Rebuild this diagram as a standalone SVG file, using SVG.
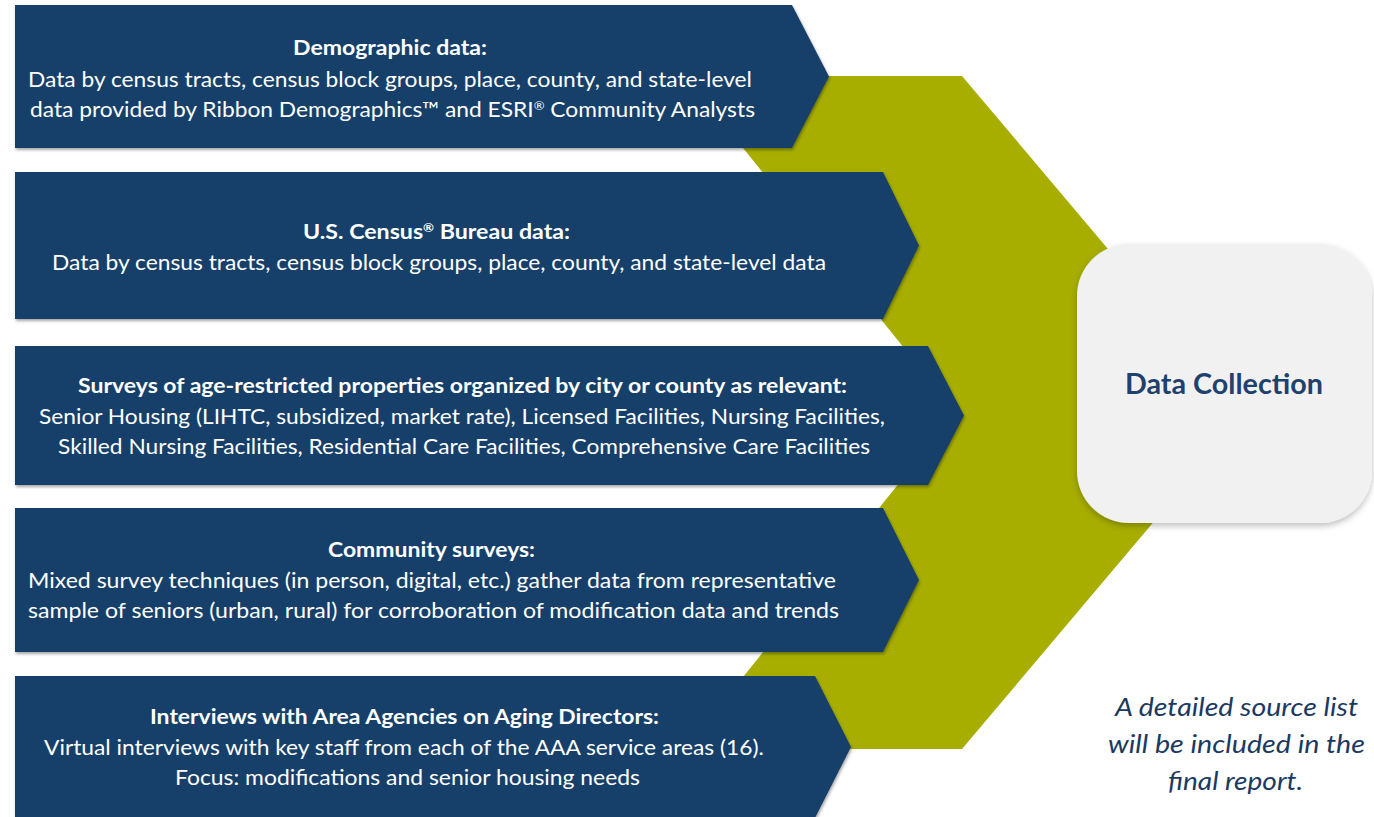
<svg xmlns="http://www.w3.org/2000/svg" width="1374" height="817" viewBox="0 0 1374 817">
  <defs>
    <filter id="shadow" x="-5%" y="-5%" width="110%" height="115%">
      <feDropShadow dx="1" dy="2" stdDeviation="1.6" flood-color="#000" flood-opacity="0.35"/>
    </filter>
    <filter id="softShadow" x="-10%" y="-10%" width="120%" height="120%">
      <feDropShadow dx="0" dy="3" stdDeviation="3" flood-color="#000" flood-opacity="0.25"/>
    </filter>
  </defs>
  <style>
    .src { fill: #193f6b; filter: url(#shadow); }
    .txt { font-family: Lato, "Liberation Sans", sans-serif; font-size: 21px; fill: #ffffff; }
    .ttl { font-weight: bold; }
    .sup { font-size: 12px; }
    .hub { fill: #f1f1f1; filter: url(#softShadow); }
    .hubtxt { font-family: Lato, "Liberation Sans", sans-serif; font-size: 28px; font-weight: bold; fill: #1f416d; }
    .note { font-family: Lato, "Liberation Sans", sans-serif; font-size: 25px; font-style: italic; fill: #1b3a62; }
  </style>

  <rect width="1374" height="817" fill="#ffffff"/>

  <!-- large olive chevron behind the source arrows -->
  <g id="connectors">
    <path d="M685,76 H962 L1246,412.5 L962,749 H685 L956,412.5 Z" fill="#a7ae00"/>
  </g>

  <!-- central hub -->
  <g id="hub">
    <rect class="hub" x="1077" y="244" width="295" height="279" rx="52" ry="52"/>
    <text class="hubtxt" x="1125" y="394" textLength="198" lengthAdjust="spacingAndGlyphs">Data Collection</text>
  </g>

  <!-- source 1 -->
  <g id="demographic">
    <path class="src" d="M15,5 H792 L829,76.5 L792,148 H15 Z"/>
    <text class="txt ttl" x="293" y="55" textLength="194" lengthAdjust="spacingAndGlyphs">Demographic data:</text>
    <text class="txt" x="28" y="86.5" textLength="724" lengthAdjust="spacingAndGlyphs">Data by census tracts, census block groups, place, county, and state-level</text>
    <text class="txt" x="30" y="116.5" textLength="725" lengthAdjust="spacingAndGlyphs">data provided by Ribbon Demographics™ and ESRI<tspan class="sup" dy="-7">®</tspan><tspan dy="7"> Community Analysts</tspan></text>
  </g>

  <!-- source 2 -->
  <g id="census">
    <path class="src" d="M15,172 H883 L919,245.5 L883,319 H15 Z"/>
    <text class="txt ttl" x="303" y="239" textLength="267" lengthAdjust="spacingAndGlyphs">U.S. Census<tspan class="sup" dy="-7">®</tspan><tspan dy="7"> Bureau data:</tspan></text>
    <text class="txt" x="52" y="270" textLength="774" lengthAdjust="spacingAndGlyphs">Data by census tracts, census block groups, place, county, and state-level data</text>
  </g>

  <!-- source 3 -->
  <g id="surveys">
    <path class="src" d="M15,346 H928 L964,415.5 L928,485 H15 Z"/>
    <text class="txt ttl" x="78" y="393" textLength="769" lengthAdjust="spacingAndGlyphs">Surveys of age-restricted properties organized by city or county as relevant:</text>
    <text class="txt" x="39" y="423.5" textLength="846" lengthAdjust="spacingAndGlyphs">Senior Housing (LIHTC, subsidized, market rate), Licensed Facilities, Nursing Facilities,</text>
    <text class="txt" x="58" y="453.5" textLength="812" lengthAdjust="spacingAndGlyphs">Skilled Nursing Facilities, Residential Care Facilities, Comprehensive Care Facilities</text>
  </g>

  <!-- source 4 -->
  <g id="community">
    <path class="src" d="M15,508 H883 L919,580 L883,652 H15 Z"/>
    <text class="txt ttl" x="328" y="557" textLength="207" lengthAdjust="spacingAndGlyphs">Community surveys:</text>
    <text class="txt" x="28" y="588" textLength="808" lengthAdjust="spacingAndGlyphs">Mixed survey techniques (in person, digital, etc.) gather data from representative</text>
    <text class="txt" x="28" y="618" textLength="811" lengthAdjust="spacingAndGlyphs">sample of seniors (urban, rural) for corroboration of modification data and trends</text>
  </g>

  <!-- source 5 -->
  <g id="interviews">
    <path class="src" d="M15,676 H815 L851,747 L815,818 H15 Z"/>
    <text class="txt ttl" x="150" y="724" textLength="509" lengthAdjust="spacingAndGlyphs">Interviews with Area Agencies on Aging Directors:</text>
    <text class="txt" x="44" y="755" textLength="720" lengthAdjust="spacingAndGlyphs">Virtual interviews with key staff from each of the AAA service areas (16).</text>
    <text class="txt" x="175" y="785" textLength="465" lengthAdjust="spacingAndGlyphs">Focus: modifications and senior housing needs</text>
  </g>

  <!-- footnote -->
  <g id="note">
    <text class="note" x="1115" y="716" textLength="243" lengthAdjust="spacingAndGlyphs">A detailed source list</text>
    <text class="note" x="1108" y="753" textLength="257" lengthAdjust="spacingAndGlyphs">will be included in the</text>
    <text class="note" x="1168" y="790" textLength="135" lengthAdjust="spacingAndGlyphs">final report.</text>
  </g>
</svg>
